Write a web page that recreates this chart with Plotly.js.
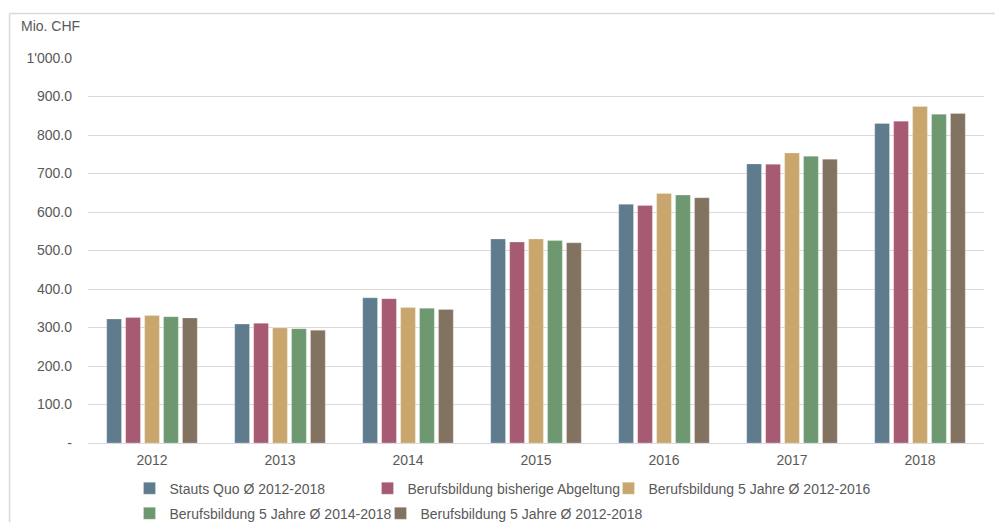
<!DOCTYPE html>
<html>
<head>
<meta charset="utf-8">
<script src="https://cdn.plot.ly/plotly-3.0.1.min.js"></script>
<style>html,body{margin:0;padding:0;background:#fff;}#chart{width:995px;height:522px;}</style>
</head>
<body>
<div id="chart"></div>
<script>
const years = ['2012', '2013', '2014', '2015', '2016', '2017', '2018'];
const seriesNames = [
  'Stauts Quo Ø 2012-2018',
  'Berufsbildung bisherige Abgeltung',
  'Berufsbildung 5 Jahre Ø 2012-2016',
  'Berufsbildung 5 Jahre Ø 2014-2018',
  'Berufsbildung 5 Jahre Ø 2012-2018'
];
const statusQuo = [322, 309, 377, 530, 620, 725, 830];
const bisherigeAbgeltung = [326, 311, 375, 522, 617, 724, 836];
const bb5J_2012_2016 = [331, 299, 352, 530, 648, 753, 874];
const bb5J_2014_2018 = [328, 297, 350, 526, 644, 745, 854];
const bb5J_2012_2018 = [325, 293, 347, 520, 637, 737, 856];
const seriesColors = ['#5f7b8e', '#a75b72', '#c8a66e', '#6d9870', '#827260'];
const yTickVals = [0, 100, 200, 300, 400, 500, 600, 700, 800, 900, 1000];
const yTickText = ['-', '100.0', '200.0', '300.0', '400.0', '500.0', '600.0', '700.0', '800.0', '900.0', "1'000.0"];

const allSeries = [statusQuo, bisherigeAbgeltung, bb5J_2012_2016, bb5J_2014_2018, bb5J_2012_2018];
const legendWidths = [193, 196, 250, 206, 240];
const legendRefs = ['legend', 'legend', 'legend', 'legend2', 'legend2'];
const traces = allSeries.map((vals, i) => ({
  type: 'bar',
  x: years,
  y: vals,
  name: seriesNames[i],
  legend: legendRefs[i],
  legendwidth: legendWidths[i],
  marker: { color: seriesColors[i], line: { color: 'rgba(255,255,255,0.5)', width: 0.5 } },
  hoverinfo: 'x+y+name'
}));

const legendBase = {
  orientation: 'h',
  x: 0.0463,
  xanchor: 'left',
  yanchor: 'top',
  font: { size: 14, color: '#595959' },
  itemwidth: 30,
  tracegroupgap: 0,
  bgcolor: 'rgba(0,0,0,0)'
};

const layout = {
  width: 995,
  height: 522,
  margin: { l: 88, r: 11, t: 58, b: 79, pad: 0, autoexpand: false },
  paper_bgcolor: '#ffffff',
  plot_bgcolor: '#ffffff',
  font: { family: 'Liberation Sans, Arial, sans-serif', size: 14, color: '#595959' },
  barmode: 'group',
  bargap: 0.26,
  bargroupgap: 0.22,
  showlegend: true,
  legend: Object.assign({}, legendBase, { y: -0.077 }),
  legend2: Object.assign({}, legendBase, { y: -0.142 }),
  xaxis: {
    type: 'category',
    showgrid: false,
    showline: true,
    linecolor: '#d9d9d9',
    linewidth: 1,
    ticks: '',
    ticklabelstandoff: 4,
    tickfont: { size: 14, color: '#595959' },
    zeroline: false
  },
  yaxis: {
    range: [0, 1000],
    tickvals: yTickVals,
    ticktext: yTickText,
    showgrid: true,
    gridcolor: '#d9d9d9',
    gridwidth: 1,
    zeroline: false,
    showline: false,
    ticks: '',
    ticklabelstandoff: 15,
    tickfont: { size: 14, color: '#595959' }
  },
  annotations: [{
    text: 'Mio. CHF',
    xref: 'paper', yref: 'paper',
    x: -0.0767, y: 1.083,
    xanchor: 'left', yanchor: 'middle',
    showarrow: false,
    font: { size: 14, color: '#595959' }
  }],
  shapes: [
    { type: 'line', xref: 'paper', yref: 'paper', x0: -0.0875, x1: 1.02, y0: 1.1155, y1: 1.1155, line: { color: '#d9d9d9', width: 1.5 } },
    { type: 'line', xref: 'paper', yref: 'paper', x0: -0.0875, x1: -0.0875, y0: 1.1155, y1: -0.21, line: { color: '#d9d9d9', width: 1.5 } }
  ]
};

Plotly.newPlot('chart', traces, layout, { displayModeBar: false, staticPlot: true });
</script>
</body>
</html>
